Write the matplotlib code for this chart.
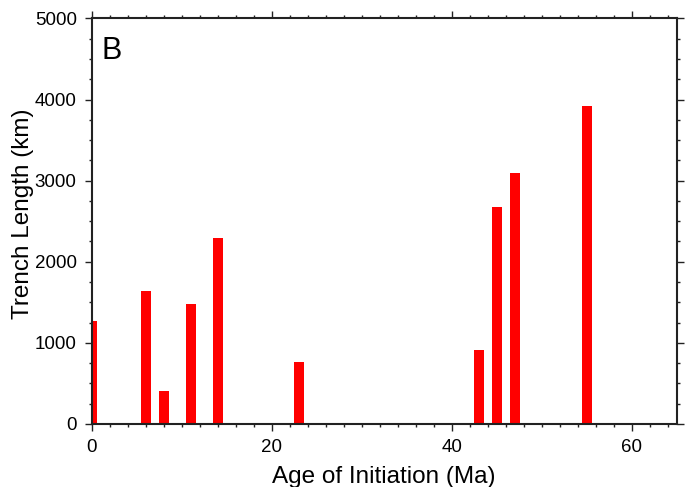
import numpy as np
import matplotlib
matplotlib.use('Agg')
import matplotlib.pyplot as plt
from matplotlib.ticker import MultipleLocator

plt.rcParams['font.family'] = ['Liberation Sans', 'DejaVu Sans']

# age of initiation (Ma) and trench length (km)
ages = [0, 6, 8, 11, 14, 23, 43, 45, 47, 55]
lengths = [1270, 1640, 410, 1475, 2290, 760, 910, 2680, 3095, 3915]

fig = plt.figure(figsize=(6.85, 4.87), dpi=100)
ax = fig.add_axes([0.1343, 0.1294, 0.8540, 0.8327])

ax.bar(ages, lengths, width=1.2, color='#ff0000', edgecolor='none')

ax.set_xlim(0, 65)
ax.set_ylim(0, 5000)
ax.xaxis.set_major_locator(MultipleLocator(20))
ax.xaxis.set_minor_locator(MultipleLocator(2))
ax.yaxis.set_major_locator(MultipleLocator(1000))
ax.yaxis.set_minor_locator(MultipleLocator(250))

ax.tick_params(which='both', direction='out', top=True, right=True,
               labeltop=False, labelright=False, width=1.0, color='#222222')
ax.tick_params(which='major', length=5, labelsize=13.5)
ax.tick_params(axis='x', which='major', pad=6)
ax.tick_params(axis='y', which='major', pad=6)
ax.tick_params(which='minor', length=2.5)
for s in ax.spines.values():
    s.set_linewidth(1.5)
    s.set_color('#222222')

fig.text(0.5606, 0.008, 'Age of Initiation (Ma)', fontsize=17.5,
         ha='center', va='baseline')
fig.text(0.0336, 0.5606, 'Trench Length (km)', fontsize=17.5,
         ha='center', va='center', rotation=90)
ax.text(0.017, 0.957, 'B', transform=ax.transAxes, fontsize=22,
        ha='left', va='top')

fig.savefig('out.png', dpi=100)
